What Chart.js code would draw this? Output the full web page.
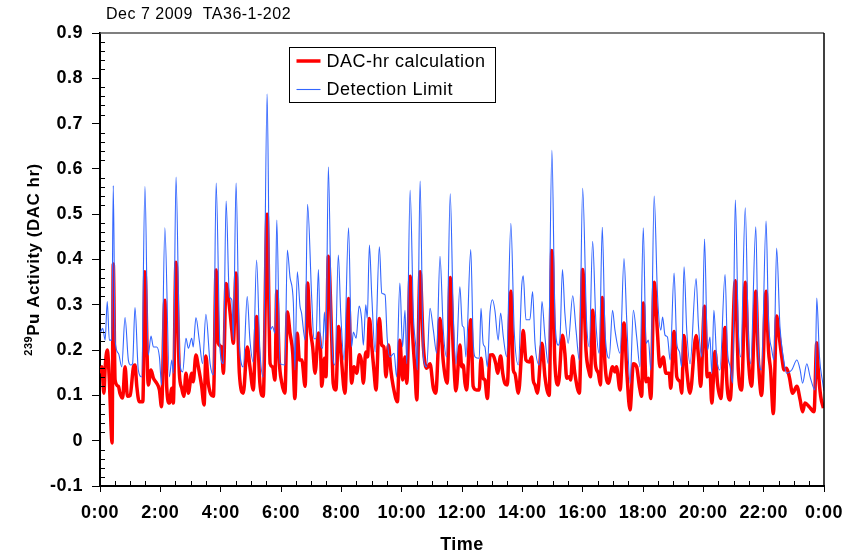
<!DOCTYPE html>
<html>
<head>
<meta charset="utf-8">
<title>DAC-hr TA36-1-202</title>
<script src="https://cdn.jsdelivr.net/npm/chart.js@4.4.1/dist/chart.umd.min.js"></script>
<style>
  html, body { margin: 0; padding: 0; background: #fff; }
  canvas { display: block; }
</style>
</head>
<body>
<canvas id="chart" width="860" height="556"></canvas>
<script>
// hours since midnight
let dacTimes = [0.00, 0.06, 0.13, 0.17, 0.24, 0.31, 0.37, 0.40, 0.44, 0.50, 0.61, 0.66, 0.75, 0.83, 0.91, 1.00, 1.11, 1.16, 1.22, 1.30,
    1.42, 1.49, 1.60, 1.69, 1.77, 1.88, 1.97, 2.04, 2.15, 2.21, 2.30, 2.38, 2.43, 2.52, 2.63, 2.71, 2.78, 2.85, 2.93, 3.04,
    3.09, 3.18, 3.26, 3.37, 3.45, 3.51, 3.59, 3.76, 3.85, 3.92, 4.03, 4.09, 4.18, 4.29, 4.37, 4.42, 4.51, 4.62, 4.75, 4.88,
    4.97, 5.08, 5.19, 5.30, 5.41, 5.54, 5.64, 5.72, 5.80, 5.86, 5.94, 6.02, 6.13, 6.21, 6.30, 6.39, 6.46, 6.54, 6.61, 6.69,
    6.80, 6.88, 6.96, 7.05, 7.13, 7.24, 7.31, 7.35, 7.44, 7.49, 7.57, 7.68, 7.73, 7.82, 7.91, 7.98, 8.12, 8.24, 8.34, 8.42,
    8.51, 8.60, 8.67, 8.73, 8.81, 8.87, 8.93, 9.01, 9.08, 9.15, 9.26, 9.34, 9.41, 9.48, 9.56, 9.64, 9.72, 9.86, 9.94, 10.03,
    10.11, 10.17, 10.28, 10.36, 10.44, 10.50, 10.61, 10.72, 10.83, 10.94, 11.05, 11.13, 11.27, 11.38, 11.51, 11.61, 11.71, 11.80, 11.93, 11.99,
    12.04, 12.10, 12.15, 12.29, 12.37, 12.48, 12.57, 12.63, 12.70, 12.76, 12.84, 12.93, 13.01, 13.12, 13.18, 13.28, 13.35, 13.42, 13.50, 13.62,
    13.70, 13.75, 13.87, 13.98, 14.03, 14.12, 14.23, 14.31, 14.36, 14.42, 14.50, 14.65, 14.75, 14.89, 14.98, 15.08, 15.19, 15.33, 15.41, 15.47,
    15.56, 15.60, 15.67, 15.74, 15.89, 16.00, 16.11, 16.22, 16.26, 16.33, 16.42, 16.52, 16.59, 16.65, 16.74, 16.85, 16.99, 17.07, 17.12, 17.24,
    17.37, 17.46, 17.57, 17.68, 17.79, 17.88, 17.96, 18.01, 18.10, 18.18, 18.26, 18.37, 18.48, 18.56, 18.67, 18.76, 18.87, 18.92, 19.03, 19.12,
    19.23, 19.28, 19.36, 19.45, 19.56, 19.76, 19.84, 19.91, 20.04, 20.13, 20.22, 20.28, 20.39, 20.47, 20.58, 20.72, 20.77, 20.89, 21.06, 21.16,
    21.27, 21.39, 21.49, 21.60, 21.74, 21.82, 21.93, 22.08, 22.16, 22.23, 22.32, 22.43, 22.49, 22.60, 22.68, 22.76, 22.85, 22.96, 23.10, 23.21,
    23.29, 23.37, 23.51, 23.67, 23.76, 23.81, 23.89, 23.98];
let dacValues = [0.149, 0.163, 0.105, 0.160, 0.200, 0.134, 0.024, -0.005, 0.390, 0.134, 0.120, 0.105, 0.094, 0.163, 0.098, 0.100, 0.163, 0.167, 0.120, 0.086,
    0.086, 0.373, 0.123, 0.156, 0.138, 0.127, 0.112, 0.075, 0.310, 0.120, 0.083, 0.116, 0.083, 0.394, 0.149, 0.116, 0.098, 0.149, 0.105, 0.149,
    0.130, 0.189, 0.163, 0.120, 0.079, 0.187, 0.127, 0.098, 0.377, 0.215, 0.207, 0.149, 0.347, 0.296, 0.244, 0.215, 0.370, 0.149, 0.105, 0.207,
    0.163, 0.112, 0.274, 0.127, 0.098, 0.500, 0.170, 0.163, 0.134, 0.330, 0.178, 0.130, 0.105, 0.284, 0.237, 0.193, 0.093, 0.237, 0.178, 0.178,
    0.120, 0.348, 0.252, 0.207, 0.149, 0.238, 0.200, 0.120, 0.182, 0.141, 0.407, 0.229, 0.127, 0.112, 0.252, 0.200, 0.105, 0.314, 0.127, 0.163,
    0.149, 0.190, 0.174, 0.127, 0.196, 0.185, 0.270, 0.207, 0.156, 0.112, 0.270, 0.211, 0.207, 0.141, 0.211, 0.156, 0.120, 0.086, 0.222, 0.134,
    0.185, 0.127, 0.363, 0.237, 0.156, 0.090, 0.373, 0.207, 0.160, 0.170, 0.116, 0.105, 0.270, 0.174, 0.127, 0.360, 0.200, 0.110, 0.211, 0.163,
    0.167, 0.127, 0.112, 0.267, 0.120, 0.112, 0.112, 0.182, 0.138, 0.134, 0.093, 0.189, 0.190, 0.170, 0.149, 0.187, 0.149, 0.127, 0.123, 0.330,
    0.156, 0.149, 0.105, 0.200, 0.243, 0.178, 0.174, 0.185, 0.134, 0.123, 0.105, 0.215, 0.141, 0.100, 0.420, 0.170, 0.123, 0.233, 0.193, 0.138,
    0.141, 0.134, 0.187, 0.149, 0.105, 0.378, 0.200, 0.149, 0.141, 0.288, 0.170, 0.149, 0.123, 0.316, 0.170, 0.127, 0.163, 0.152, 0.163, 0.112,
    0.260, 0.156, 0.068, 0.170, 0.163, 0.120, 0.098, 0.304, 0.130, 0.138, 0.093, 0.350, 0.237, 0.163, 0.185, 0.149, 0.149, 0.116, 0.241, 0.141,
    0.130, 0.105, 0.232, 0.156, 0.105, 0.232, 0.185, 0.120, 0.297, 0.141, 0.149, 0.083, 0.197, 0.127, 0.093, 0.250, 0.141, 0.090, 0.353, 0.156,
    0.112, 0.350, 0.185, 0.120, 0.330, 0.185, 0.100, 0.330, 0.200, 0.156, 0.060, 0.275, 0.244, 0.185, 0.156, 0.160, 0.141, 0.105, 0.120, 0.090,
    0.064, 0.083, 0.075, 0.064, 0.216, 0.156, 0.098, 0.072];

let limitTimes = [0.00, 0.09, 0.17, 0.24, 0.31, 0.39, 0.44, 0.50, 0.61, 0.72, 0.83, 0.94, 1.02, 1.08, 1.16, 1.27, 1.38, 1.49, 1.60, 1.69,
    1.77, 1.88, 1.97, 2.04, 2.15, 2.30, 2.38, 2.43, 2.52, 2.65, 2.74, 2.85, 2.93, 3.04, 3.09, 3.18, 3.29, 3.40, 3.51, 3.65,
    3.76, 3.85, 3.98, 4.09, 4.18, 4.29, 4.37, 4.42, 4.51, 4.62, 4.75, 4.88, 4.97, 5.08, 5.19, 5.30, 5.41, 5.54, 5.64, 5.72,
    5.80, 5.86, 5.97, 6.13, 6.21, 6.30, 6.41, 6.46, 6.54, 6.63, 6.68, 6.80, 6.88, 7.02, 7.09, 7.16, 7.24, 7.31, 7.38, 7.44,
    7.49, 7.57, 7.68, 7.79, 7.90, 7.98, 8.09, 8.24, 8.34, 8.40, 8.49, 8.59, 8.67, 8.73, 8.81, 8.86, 8.93, 9.01, 9.12, 9.26,
    9.34, 9.45, 9.52, 9.61, 9.75, 9.83, 9.94, 10.03, 10.11, 10.17, 10.28, 10.39, 10.47, 10.52, 10.61, 10.72, 10.83, 10.94, 11.05, 11.16,
    11.27, 11.38, 11.49, 11.61, 11.71, 11.80, 11.93, 12.01, 12.06, 12.13, 12.29, 12.37, 12.43, 12.57, 12.63, 12.70, 12.76, 12.84, 12.93, 13.01,
    13.09, 13.20, 13.28, 13.37, 13.48, 13.62, 13.73, 13.87, 13.98, 14.03, 14.12, 14.25, 14.34, 14.42, 14.56, 14.65, 14.75, 14.86, 14.98, 15.08,
    15.19, 15.25, 15.33, 15.41, 15.52, 15.67, 15.78, 15.89, 16.00, 16.13, 16.22, 16.33, 16.44, 16.55, 16.65, 16.74, 16.88, 16.99, 17.07, 17.24,
    17.37, 17.46, 17.57, 17.68, 17.79, 17.90, 18.01, 18.10, 18.18, 18.26, 18.37, 18.48, 18.59, 18.65, 18.73, 18.81, 18.90, 19.03, 19.12, 19.21,
    19.28, 19.36, 19.45, 19.56, 19.76, 19.84, 19.95, 20.04, 20.14, 20.22, 20.28, 20.35, 20.44, 20.55, 20.72, 20.80, 20.89, 20.97, 21.06, 21.16,
    21.24, 21.39, 21.49, 21.57, 21.74, 21.82, 21.93, 22.08, 22.16, 22.27, 22.34, 22.43, 22.54, 22.65, 22.76, 22.93, 23.10, 23.21, 23.29, 23.43,
    23.54, 23.70, 23.76, 23.85, 23.96, 24.00];
let limitValues = [0.237, 0.248, 0.222, 0.307, 0.222, 0.222, 0.563, 0.222, 0.193, 0.163, 0.272, 0.178, 0.167, 0.170, 0.294, 0.156, 0.141, 0.561, 0.189, 0.231,
    0.207, 0.207, 0.185, 0.123, 0.470, 0.141, 0.178, 0.149, 0.582, 0.170, 0.152, 0.226, 0.204, 0.226, 0.207, 0.272, 0.222, 0.170, 0.279, 0.170,
    0.145, 0.569, 0.200, 0.170, 0.529, 0.318, 0.311, 0.222, 0.569, 0.211, 0.163, 0.318, 0.222, 0.174, 0.399, 0.200, 0.141, 0.765, 0.244, 0.252,
    0.237, 0.487, 0.170, 0.167, 0.421, 0.360, 0.304, 0.156, 0.373, 0.297, 0.282, 0.222, 0.522, 0.311, 0.225, 0.225, 0.378, 0.215, 0.204, 0.284,
    0.222, 0.604, 0.229, 0.167, 0.410, 0.282, 0.178, 0.470, 0.207, 0.240, 0.226, 0.297, 0.270, 0.211, 0.300, 0.270, 0.432, 0.318, 0.196, 0.428,
    0.326, 0.322, 0.226, 0.185, 0.193, 0.141, 0.348, 0.207, 0.288, 0.170, 0.553, 0.274, 0.207, 0.156, 0.573, 0.185, 0.163, 0.292, 0.244, 0.193,
    0.407, 0.244, 0.185, 0.545, 0.280, 0.170, 0.340, 0.254, 0.250, 0.185, 0.422, 0.222, 0.185, 0.182, 0.292, 0.215, 0.207, 0.163, 0.284, 0.311,
    0.288, 0.222, 0.282, 0.229, 0.185, 0.480, 0.244, 0.167, 0.342, 0.364, 0.267, 0.267, 0.329, 0.215, 0.167, 0.307, 0.229, 0.170, 0.641, 0.274,
    0.211, 0.229, 0.378, 0.282, 0.215, 0.320, 0.244, 0.178, 0.557, 0.262, 0.207, 0.440, 0.259, 0.193, 0.471, 0.244, 0.182, 0.288, 0.244, 0.193,
    0.402, 0.267, 0.127, 0.288, 0.229, 0.163, 0.470, 0.215, 0.222, 0.156, 0.540, 0.322, 0.244, 0.273, 0.233, 0.229, 0.178, 0.370, 0.215, 0.196,
    0.163, 0.384, 0.244, 0.170, 0.358, 0.252, 0.185, 0.445, 0.200, 0.229, 0.149, 0.288, 0.185, 0.156, 0.367, 0.200, 0.163, 0.127, 0.531, 0.244,
    0.185, 0.514, 0.237, 0.170, 0.472, 0.207, 0.156, 0.485, 0.267, 0.200, 0.178, 0.425, 0.252, 0.185, 0.149, 0.156, 0.178, 0.156, 0.127, 0.170,
    0.141, 0.112, 0.315, 0.185, 0.127, 0.110];

let seriesNames = ["DAC-hr calculation", "Detection Limit"];
let hourTicks = [0, 2, 4, 6, 8, 10, 12, 14, 16, 18, 20, 22, 24];
let activityTicks = [-0.1, 0, 0.1, 0.2, 0.3, 0.4, 0.5, 0.6, 0.7, 0.8, 0.9];
let chartTitle = "Dec 7 2009  TA36-1-202";

const FONT = "'Liberation Sans', Arial, Helvetica, sans-serif";
const RED = "#ff0000";
const BLUE = "#3366ff";

function toPoints(times, values) {
    return times.map(function (t, i) {
        return {x: t, y: values[i]};
    });
}

function hourLabel(value) {
    return (Math.round(value) % 24) + ":00";
}

/**
 * Frame, minor ticks, chart title, y title with superscript and the boxed legend.
 * Everything positional comes from the chart scales / chartArea.
 */
let decorations = {
    id: "decorations",
    beforeDraw: function (chart) {
        // the reference text runs a bit wider than plain Arial
        chart.ctx.letterSpacing = "0.5px";
    },
    afterDraw: function (chart) {
        let ctx = chart.ctx;
        let area = chart.chartArea;
        let xs = chart.scales.x;
        let ys = chart.scales.y;

        ctx.save();
        // top and right frame lines
        ctx.lineWidth = 1.5;
        ctx.strokeStyle = "#555";
        ctx.beginPath();
        ctx.moveTo(area.left, area.top);
        ctx.lineTo(area.right, area.top);
        ctx.stroke();
        ctx.strokeStyle = "#000";
        ctx.beginPath();
        ctx.moveTo(area.right, area.top);
        ctx.lineTo(area.right, area.bottom);
        ctx.stroke();

        // minor ticks, pointing into the plot
        ctx.lineWidth = 1;
        ctx.strokeStyle = "#000";
        ctx.beginPath();
        for (let v = -0.1; v < 0.9; v += 0.02) {
            let r = Math.round(v * 100);
            if (r % 10 === 0) continue;
            let py = Math.round(ys.getPixelForValue(r / 100)) + 0.5;
            ctx.moveTo(area.left, py);
            ctx.lineTo(area.left + 5, py);
        }
        for (let h = 0.5; h < 24; h += 0.5) {
            if (h % 2 === 0) continue;
            let px = Math.round(xs.getPixelForValue(h)) + 0.5;
            ctx.moveTo(px, area.bottom);
            ctx.lineTo(px, area.bottom - 5);
        }
        ctx.stroke();

        // chart title, top left
        ctx.letterSpacing = "0.5px";
        ctx.fillStyle = "#000";
        ctx.font = "16px " + FONT;
        ctx.textAlign = "left";
        ctx.textBaseline = "alphabetic";
        ctx.fillText(chartTitle, area.left + 6, 19);

        // y axis title: 239 as superscript
        ctx.letterSpacing = "0.5px";
        let supText = "239";
        let mainText = "Pu Activity (DAC hr)";
        ctx.font = "bold 11px " + FONT;
        let supW = ctx.measureText(supText).width;
        ctx.font = "bold 17px " + FONT;
        let mainW = ctx.measureText(mainText).width;
        let total = supW + mainW;
        ctx.translate(33, (area.top + area.bottom) / 2);
        ctx.rotate(-Math.PI / 2);
        ctx.textAlign = "left";
        ctx.font = "bold 11px " + FONT;
        ctx.fillText(supText, -total / 2, -1);
        ctx.font = "bold 17px " + FONT;
        ctx.fillText(mainText, -total / 2 + supW, 6);
        ctx.restore();

        // legend box
        ctx.save();
        let bx = area.left + 189.5;
        let by = area.top + 14.5;
        let bw = 206;
        let bh = 55;
        ctx.fillStyle = "#fff";
        ctx.fillRect(bx, by, bw, bh);
        ctx.strokeStyle = "#000";
        ctx.lineWidth = 1;
        ctx.strokeRect(bx, by, bw, bh);
        ctx.letterSpacing = "0.5px";
        ctx.font = "18px " + FONT;
        ctx.textAlign = "left";
        ctx.textBaseline = "middle";
        chart.data.datasets.forEach(function (ds, i) {
            let ly = by + 13.5 + i * 28.5;
            ctx.strokeStyle = ds.borderColor;
            ctx.lineWidth = ds.borderWidth;
            ctx.beginPath();
            ctx.moveTo(bx + 7, ly);
            ctx.lineTo(bx + 31, ly);
            ctx.stroke();
            ctx.fillStyle = "#000";
            ctx.fillText(ds.label, bx + 37, ly + 1);
        });
        ctx.restore();
    }
};

function buildChart() {
    let canvas = document.getElementById("chart");
    let tickFont = {family: FONT, size: 18, weight: "bold"};
    return new Chart(canvas, {
        type: "line",
        data: {
            datasets: [
                {
                    label: seriesNames[0],
                    data: toPoints(dacTimes, dacValues),
                    borderColor: RED,
                    borderWidth: 3.5,
                    order: 2
                },
                {
                    label: seriesNames[1],
                    data: toPoints(limitTimes, limitValues),
                    borderColor: BLUE,
                    borderWidth: 1.1,
                    order: 1
                }
            ]
        },
        options: {
            responsive: false,
            animation: false,
            layout: {padding: {top: 33, right: 36, left: 0, bottom: 0}},
            elements: {
                point: {radius: 0},
                line: {cubicInterpolationMode: "monotone", fill: false}
            },
            plugins: {
                legend: {display: false},
                tooltip: {enabled: false},
                title: {display: false}
            },
            scales: {
                x: {
                    type: "linear",
                    min: hourTicks[0],
                    max: hourTicks[hourTicks.length - 1],
                    afterFit: function (scale) { scale.height = 70; },
                    afterBuildTicks: function (scale) {
                        scale.ticks = hourTicks.map(function (v) { return {value: v}; });
                    },
                    ticks: {
                        autoSkip: false,
                        maxRotation: 0,
                        padding: 10,
                        color: "#000",
                        font: tickFont,
                        callback: hourLabel
                    },
                    grid: {drawOnChartArea: false, tickLength: 6, color: "#000", lineWidth: 1},
                    border: {color: "#000", width: 2},
                    title: {
                        display: true,
                        text: "Time",
                        color: "#000",
                        font: {family: FONT, size: 18, weight: "bold"},
                        padding: {top: 0, bottom: 0}
                    }
                },
                y: {
                    min: activityTicks[0],
                    max: activityTicks[activityTicks.length - 1],
                    afterFit: function (scale) { scale.width = 100; },
                    afterBuildTicks: function (scale) {
                        scale.ticks = activityTicks.map(function (v) { return {value: v}; });
                    },
                    ticks: {
                        padding: 9,
                        color: "#000",
                        font: tickFont,
                        callback: function (v) { return String(Math.round(v * 10) / 10); }
                    },
                    grid: {drawOnChartArea: false, tickLength: 8, color: "#000", lineWidth: 1},
                    border: {color: "#000", width: 2}
                }
            }
        },
        plugins: [decorations]
    });
}

buildChart();
</script>
</body>
</html>
